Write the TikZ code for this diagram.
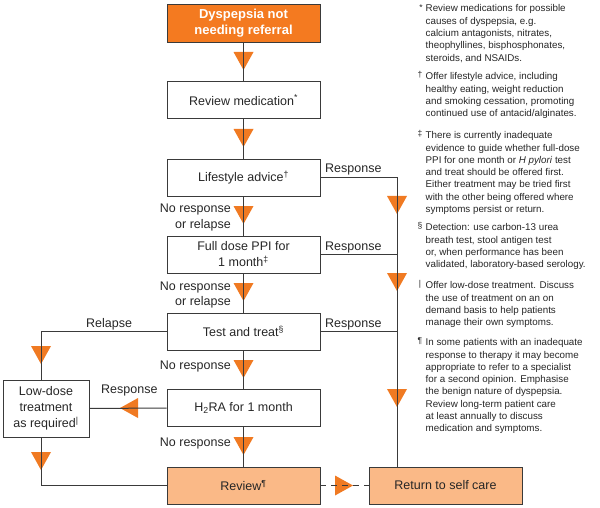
\documentclass[tikz,border=0pt]{standalone}
\usepackage{fontspec}
\setmainfont{Liberation Sans}
\definecolor{orgdark}{HTML}{F47A20}
\definecolor{orglight}{HTML}{FAB987}
\definecolor{tricol}{HTML}{F07A22}
\definecolor{linegray}{HTML}{3A3A3A}
\definecolor{textgray}{HTML}{262626}
\begin{document}
\begin{tikzpicture}[x=1pt,y=-1pt,
  box/.style={draw=linegray, line width=0.8pt, minimum width=153pt, minimum height=37pt,
    inner sep=0pt, align=center, text=textgray, font=\fontsize{12.5}{16}\selectfont},
  topbox/.style={box, fill=orgdark, text=white, minimum height=38pt,
    font=\fontsize{13}{16.5}\selectfont\bfseries},
  endbox/.style={box, fill=orglight},
  lbl/.style={inner sep=0pt, text=textgray, font=\fontsize{12.5}{16}\selectfont},
  note/.style={inner sep=0pt, anchor=north west, align=left, text=textgray,
    font=\fontsize{9.8}{12.3}\selectfont},
  sym/.style={inner sep=0pt, anchor=north, text=textgray, font=\fontsize{8.5}{9}\selectfont},
  conn/.style={draw=linegray, line width=1pt},
  pics/tdown/.style={code={\fill[tricol] (-10,-9) -- (10,-9) -- (0,9) -- cycle;}},
  pics/tleft/.style={code={\fill[tricol] (9,-10) -- (9,10) -- (-9,0) -- cycle;}},
  pics/tright/.style={code={\fill[tricol] (-9,-10) -- (-9,10) -- (9,0) -- cycle;}}
]
\useasboundingbox (0,0) rectangle (600,508);

% boxes
\node[topbox] (top) at (243.5,23) {Dyspepsia not\\needing referral};
\node[box] (revmed) at (243.5,100) {Review medication\textsuperscript{*}};
\node[box] (life) at (243.5,177.5) {Lifestyle advice\textsuperscript{†}};
\node[box] (ppi) at (243.5,254.5) {Full dose PPI for\\1 month\textsuperscript{‡}};
\node[box] (test) at (243.5,331.5) {Test and treat\textsuperscript{§}};
\node[box] (h2ra) at (243.5,408) {H\textsubscript{2}RA for 1 month};
\node[endbox] (review) at (243.5,485.5) {Review\textsuperscript{¶}};
\node[endbox] (ret) at (445.5,485.5) {Return to self care};
\node[box, minimum width=86pt, minimum height=57pt] (low) at (46,408.5)
  {Low-dose\\treatment\\as required\textsuperscript{|}};

\coordinate (rt) at (397,177.5);
\coordinate (lt) at (41,331.5);
\coordinate (lb) at (41,485.5);

% triangles (under the lines)
\pic at (243.5,61) {tdown};
\pic at (243.5,138) {tdown};
\pic at (243.5,215) {tdown};
\pic at (243.5,292) {tdown};
\pic at (243.5,369) {tdown};
\pic at (243.5,446) {tdown};
\pic at (397,205) {tdown};
\pic at (397,282) {tdown};
\pic at (397,398) {tdown};
\pic at (41,355) {tdown};
\pic at (41,461) {tdown};
\pic at (129,408) {tleft};
\pic at (344,485.5) {tright};

% connectors
\draw[conn] (top) -- (revmed);
\draw[conn] (revmed) -- (life);
\draw[conn] (life) -- (ppi);
\draw[conn] (ppi) -- (test);
\draw[conn] (test) -- (h2ra);
\draw[conn] (h2ra) -- (review);
\draw[conn] (life.east) -- (rt) -- (rt |- ret.north);
\draw[conn] (ppi.east) -- (ppi.east -| rt);
\draw[conn] (test.east) -- (test.east -| rt);
\draw[conn] (test.west) -- (lt) -- (lt |- low.north);
\draw[conn] (low.south -| lb) -- (lb) -- (review.west);
\draw[conn] (h2ra.west) -- (low.east);
\draw[conn, dash pattern=on 6pt off 5pt] (review.east) -- (ret.west);

% connector labels
\node[lbl, anchor=base west] (r1) at (325,173) {Response};
\node[lbl, anchor=base west] (r2) at (325,250.5) {Response};
\node[lbl, anchor=base west] (r3) at (325,327) {Response};
\node[lbl, anchor=base west] (rel) at (86,327) {Relapse};
\node[lbl, anchor=base west] (r4) at (101,393.5) {Response};
\node[lbl, anchor=base east] (n1a) at (231,212.5) {No response};
\node[lbl, anchor=base east] (n1b) at (231,228.5) {or relapse};
\node[lbl, anchor=base east] (n2a) at (231,290.5) {No response};
\node[lbl, anchor=base east] (n2b) at (231,305.5) {or relapse};
\node[lbl, anchor=base east] (n3) at (231,369.5) {No response};
\node[lbl, anchor=base east] (n4) at (231,446.5) {No response};

% footnotes
\node[sym] (s1) at (421,4) {*};
\node[note] (f1) at (425.5,4.7) {Review medications for possible\\causes of dyspepsia, e.g.\\calcium antagonists, nitrates,\\theophyllines, bisphosphonates,\\steroids, and NSAIDs.};
\node[sym] (s2) at (420,71) {†};
\node[note] (f2) at (425.5,72.4) {Offer lifestyle advice, including\\healthy eating, weight reduction\\and smoking cessation, promoting\\continued use of antacid/alginates.};
\node[sym] (s3) at (420,130) {‡};
\node[note] (f3) at (425.5,131.4) {There is currently inadequate\\evidence to guide whether full-dose\\PPI for one month or \textit{H pylori} test\\and treat should be offered first.\\Either treatment may be tried first\\with the other being offered where\\symptoms persist or return.};
\node[sym] (s4) at (420,222) {§};
\node[note] (f4) at (425.5,223.4) {Detection: use carbon-13 urea\\breath test, stool antigen test\\or, when performance has been\\validated, laboratory-based serology.};
\node[sym] (s5) at (420,280) {|};
\node[note] (f5) at (425.5,281.4) {Offer low-dose treatment. Discuss\\the use of treatment on an on\\demand basis to help patients\\manage their own symptoms.};
\node[sym] (s6) at (420,337) {¶};
\node[note] (f6) at (425.5,338.4) {In some patients with an inadequate\\response to therapy it may become\\appropriate to refer to a specialist\\for a second opinion. Emphasise\\the benign nature of dyspepsia.\\Review long-term patient care\\at least annually to discuss\\medication and symptoms.};
\end{tikzpicture}
\end{document}
